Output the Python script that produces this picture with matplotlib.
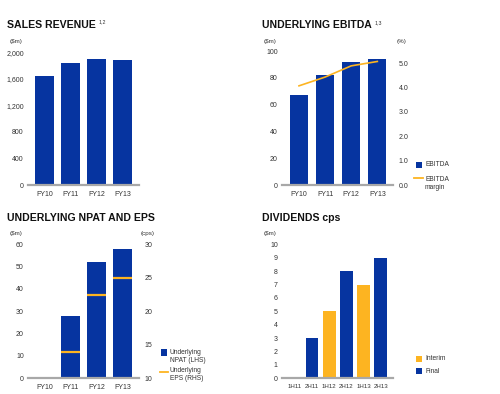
import matplotlib
matplotlib.use("Agg")
import matplotlib.pyplot as plt
import numpy as np
from matplotlib.patches import Rectangle
from matplotlib.lines import Line2D

plt.rcParams['font.family'] = ['Liberation Sans', 'DejaVu Sans']

# ---- data ----
fy = ["FY10", "FY11", "FY12", "FY13"]
sales = [1648, 1834, 1904, 1884]
ebitda = [67, 82, 92, 94]
ebitda_margin = [4.07, 4.43, 4.89, 5.07]
npat = [np.nan, 28, 52, 58]
eps = [np.nan, 13.9, 22.4, 24.9]
halves = ["1H11", "2H11", "1H12", "2H12", "1H13", "2H13"]
dividends = [0, 3, 5, 8, 7, 9]
div_type = ["Final", "Final", "Interim", "Final", "Interim", "Final"]

BLUE = "#0634A0"
YEL = "#FDB421"
GRAY = "#A8A8A8"
TXT = "#333333"

W, H = 500, 394
fig = plt.figure(figsize=(5, 3.94), dpi=100)

def fx(x):
    return x / W

def fy_(y):
    return 1 - y / H

def make_ax(left, right, top, bottom):
    return fig.add_axes([fx(left), fy_(bottom), fx(right) - fx(left), fy_(top) - fy_(bottom)])

def style(ax):
    for s in ["top", "right", "left"]:
        ax.spines[s].set_visible(False)
    ax.spines["bottom"].set_color(GRAY)
    ax.spines["bottom"].set_linewidth(1.6)
    ax.tick_params(length=0, labelsize=5, colors=TXT, pad=3)
    ax.tick_params(axis="x", pad=4)

def style_twin(ax2):
    for s in ["top", "right", "left", "bottom"]:
        ax2.spines[s].set_visible(False)
    ax2.tick_params(length=0, labelsize=5, colors=TXT, pad=3)

def txt(x, y, s, size=5, weight="normal", ha="left", va="center", color=TXT):
    fig.text(fx(x), fy_(y), s, fontsize=size, fontweight=weight, ha=ha, va=va, color=color)

def leg_box(x0, y0, x1, y1, color):
    fig.add_artist(Rectangle((fx(x0), fy_(y1)), fx(x1) - fx(x0), fy_(y0) - fy_(y1),
                             transform=fig.transFigure, color=color, lw=0))

def leg_line(x0, x1, y, color):
    fig.add_artist(Line2D([fx(x0), fx(x1)], [fy_(y), fy_(y)], transform=fig.transFigure,
                          color=color, lw=1.3))

xi = np.arange(len(fy))

# ---- Panel 1: Sales revenue ----
ax1 = make_ax(28, 139, 52.3, 185)
ax1.bar(xi, sales, width=0.73, color=BLUE)
ax1.set_xlim(-0.63, 3.63)
ax1.set_ylim(0, 2000)
ax1.set_yticks(range(0, 2001, 400))
ax1.set_yticklabels([f"{v:,}" for v in range(0, 2001, 400)])
ax1.set_xticks(xi)
ax1.set_xticklabels(fy)
style(ax1)
txt(7, 24.5, "SALES REVENUE", size=7.6, weight="bold", color="#111111")
txt(99, 22, "1,2", size=3.8)
txt(16, 41.5, "($m)", size=4.5, ha="center")

# ---- Panel 2: EBITDA ----
ax2 = make_ax(282, 393, 51, 185)
ax2.bar(xi, ebitda, width=0.7, color=BLUE)
ax2.set_xlim(-0.65, 3.6)
ax2.set_ylim(0, 100)
ax2.set_yticks(range(0, 101, 20))
ax2.set_xticks(xi)
ax2.set_xticklabels(fy)
style(ax2)
ax2b = ax2.twinx()
ax2b.plot(xi, ebitda_margin, color=YEL, lw=1.2)
ax2b.set_ylim(0, 5.5)
ax2b.set_yticks(np.arange(0, 5.01, 1.0))
ax2b.set_yticklabels([f"{v:.1f}" for v in np.arange(0, 5.01, 1.0)])
style_twin(ax2b)
ax2b.tick_params(pad=4)
txt(262, 25, "UNDERLYING EBITDA", size=7.5, weight="bold", color="#111111")
txt(375, 22.5, "1,3", size=3.8)
txt(270, 41.5, "($m)", size=4.5, ha="center")
txt(402, 41.5, "(%)", size=4.5, ha="center")
leg_box(416, 162, 422, 168, BLUE)
txt(425, 165, "EBITDA", size=4.8)
leg_line(414, 423, 178, YEL)
txt(425, 176, "EBITDA\nmargin", size=4.8, va="top")

# ---- Panel 3: NPAT & EPS ----
ax3 = make_ax(28, 139, 244.3, 378.3)
ax3.bar(xi, npat, width=0.73, color=BLUE)
ax3.set_xlim(-0.63, 3.63)
ax3.set_ylim(0, 60)
ax3.set_yticks(range(0, 61, 10))
ax3.set_xticks(xi)
ax3.set_xticklabels(fy)
style(ax3)
ax3b = ax3.twinx()
ax3b.hlines(eps, xi - 0.365, xi + 0.365, color=YEL, lw=1.6)
ax3b.set_ylim(10, 30)
ax3b.set_yticks(range(10, 31, 5))
style_twin(ax3b)
ax3b.tick_params(pad=4)
txt(7, 218, "UNDERLYING NPAT AND EPS", size=7.6, weight="bold", color="#111111")
txt(16, 233.7, "($m)", size=4.5, ha="center")
txt(148, 233.7, "(cps)", size=4.5, ha="center")
leg_box(161, 349, 167, 355.5, BLUE)
txt(170, 348.5, "Underlying\nNPAT (LHS)", size=4.8, va="top")
leg_line(160, 168, 371.7, YEL)
txt(170, 367.5, "Underlying\nEPS (RHS)", size=4.8, va="top")

# ---- Panel 4: Dividends ----
hx = np.arange(len(halves))
ax4 = make_ax(282, 393, 244.3, 378.3)
cols = [YEL if t == "Interim" else BLUE for t in div_type]
ax4.bar(hx, dividends, width=0.75, color=cols)
ax4.set_xlim(-0.74, 5.7)
ax4.set_ylim(0, 10)
ax4.set_yticks(range(0, 11, 1))
ax4.set_xticks(hx)
ax4.set_xticklabels(halves)
style(ax4)
ax4.tick_params(axis="x", labelsize=4.4)
txt(262, 218, "DIVIDENDS cps", size=7.6, weight="bold", color="#111111")
txt(270, 233.7, "($m)", size=4.5, ha="center")
leg_box(416, 355.7, 422, 361.7, YEL)
txt(425, 358.7, "Interim", size=4.8)
leg_box(416, 368.3, 422, 374, BLUE)
txt(425, 371.2, "Final", size=4.8)

fig.savefig("out.png", dpi=100)
